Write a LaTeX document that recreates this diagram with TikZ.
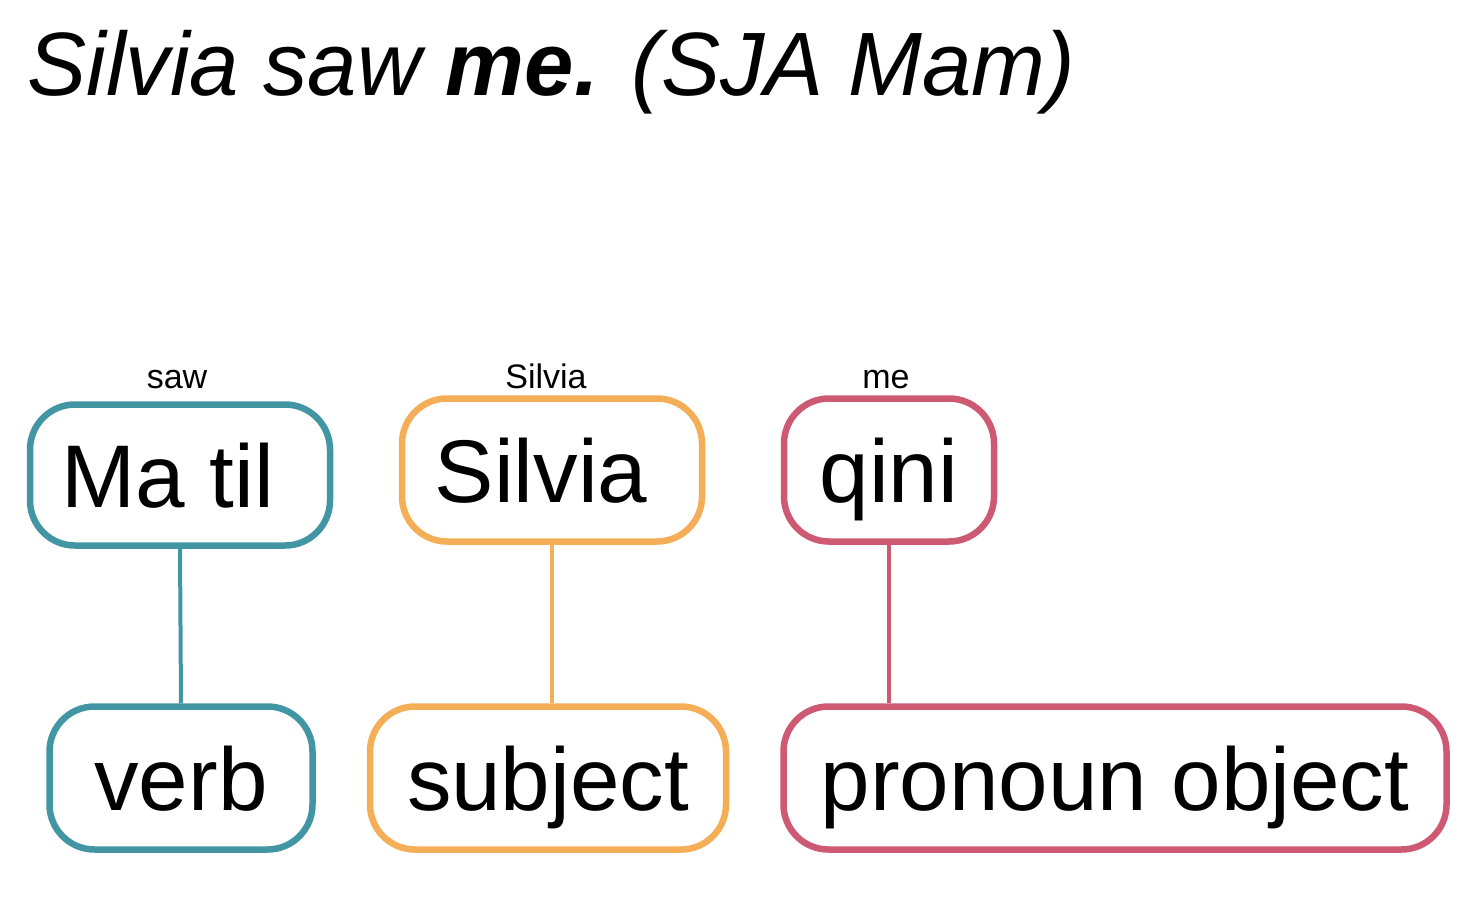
\documentclass[tikz,border=0pt]{standalone}
\usepackage{fontspec}
\setmainfont{Liberation Sans}
\definecolor{cteal}{RGB}{66,150,164}
\definecolor{corange}{RGB}{243,174,87}
\definecolor{cpink}{RGB}{206,89,114}
\tikzset{
  wordbox/.style={draw=#1, line width=6.5pt, rounded corners=45pt, inner sep=0pt,
    text height=64pt, text depth=0pt, font=\fontsize{89}{100}\selectfont, minimum height=143pt},
  gloss/.style={anchor=base, font=\fontsize{34}{40}\selectfont, inner sep=0pt},
  link/.style={draw=#1, line width=4pt},
}
\begin{document}
\begin{tikzpicture}[x=1pt,y=-1pt]
\useasboundingbox (0,0) rectangle (1482,898);
\node[anchor=base west, inner sep=0pt, xscale=0.985, font=\fontsize{90}{100}\selectfont\itshape] (title) at (27,95) {Silvia saw \textbf{me.} (SJA Mam)};

\node[wordbox=cteal, minimum width=300pt, minimum height=141pt] (A) at (180,475) {Ma til\kern24pt};
\node[wordbox=corange, minimum width=300pt] (B) at (552,470) {Silvia\kern22pt};
\node[wordbox=cpink, minimum width=210pt] (C) at (889,470) {qini};

\node[wordbox=cteal, minimum width=263pt] (D) at (181,778) {verb};
\node[wordbox=corange, minimum width=356pt] (E) at (548,778) {subject};
\node[wordbox=cpink, minimum width=663pt] (F) at (1115,778) {pronoun object};

\node[gloss] (ga) at (177,388) {saw};
\node[gloss] (gb) at (546,388) {Silvia};
\node[gloss] (gc) at (886,388) {me};

\draw[link=cteal] (A.south) -- (D.north);
\draw[link=corange] (B.south) -- (B.south |- E.north);
\draw[link=cpink] (C.south) -- (C.south |- F.north);
\end{tikzpicture}
\end{document}
